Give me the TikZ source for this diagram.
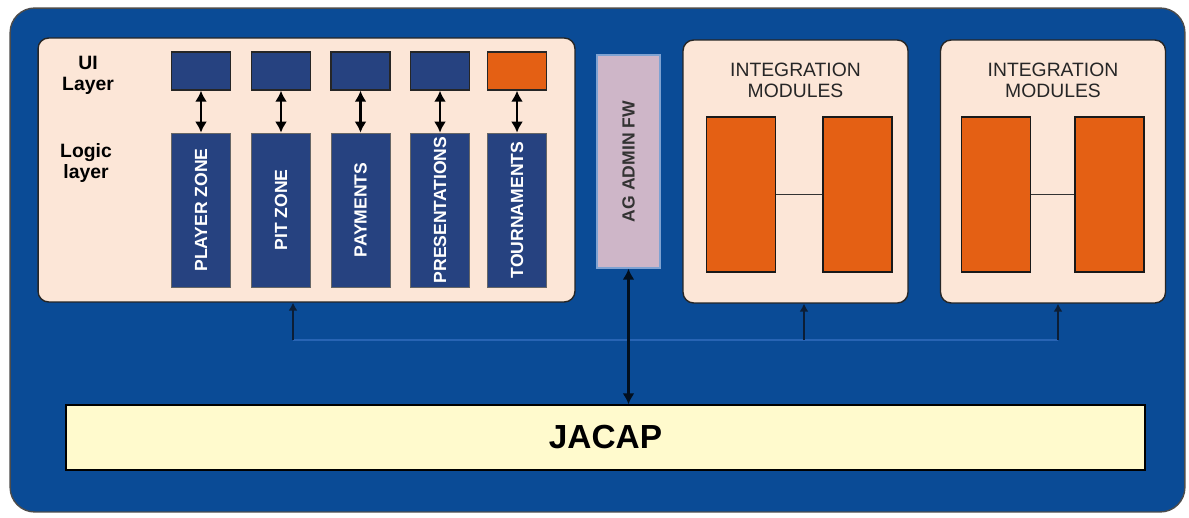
\documentclass[tikz,border=0pt]{standalone}
\usepackage{fontspec}
\setmainfont{Liberation Sans}
\usetikzlibrary{arrows.meta,positioning}
\definecolor{jacapblue}{RGB}{10,75,150}
\definecolor{busblue}{RGB}{40,100,180}
\definecolor{peach}{RGB}{252,230,215}
\definecolor{navybox}{RGB}{38,66,128}
\definecolor{modorange}{RGB}{228,96,20}
\definecolor{adminfill}{RGB}{206,182,200}
\definecolor{jacapfill}{RGB}{255,250,205}

\begin{document}
\begin{tikzpicture}[x=0.02cm,y=-0.02cm,
        panel/.style={draw=black!85,thick,rounded corners=6pt,fill=peach,inner sep=0pt},
        uibox/.style={draw=black!85,thick,fill=navybox,minimum width=1.18cm,minimum height=0.76cm,inner sep=0pt},
        logicbox/.style={draw=black!60,fill=navybox,minimum width=1.18cm,minimum height=3.08cm,inner sep=0pt,
                         text=white,font=\fontsize{10}{11}\selectfont\bfseries},
        modbox/.style={draw=black!90,thick,fill=modorange,minimum width=1.38cm,minimum height=3.1cm,inner sep=0pt},
        title/.style={align=center,font=\fontsize{11}{12}\selectfont,text=black!85},
        lbl/.style={align=center,font=\fontsize{11}{12}\selectfont\bfseries},
        arr/.style={{Latex[length=2.2mm,width=2.4mm]}-{Latex[length=2.2mm,width=2.4mm]},line width=1.4pt,black},
        bus/.style={thick,busblue}]
    \useasboundingbox (0,0) rectangle (1189,517);
    \fill[white] (0,0) rectangle (1189,517);
    \node[draw=black!70,thick,fill=jacapblue,rounded corners=14pt,minimum width=23.5cm,minimum height=10.08cm] (bg) at (597.5,260) {};

    % presentation / logic panel
    \node[panel,minimum width=10.74cm,minimum height=5.28cm] (plat) at (306.5,170) {};
    \node[lbl] (uilbl) at (88,75) {UI\\Layer};
    \node[lbl] (logiclbl) at (86,163) {Logic\\layer};
    \node[uibox] (u1) at (201,71) {};
    \node[uibox] (u2) at (281,71) {};
    \node[uibox] (u3) at (360.5,71) {};
    \node[uibox] (u4) at (440,71) {};
    \node[uibox,fill=modorange] (u5) at (517,71) {};
    \node[logicbox] (l1) at (201,210) {\rotatebox{90}{PLAYER ZONE}};
    \node[logicbox] (l2) at (281,210) {\rotatebox{90}{PIT ZONE}};
    \node[logicbox] (l3) at (360.5,210) {\rotatebox{90}{PAYMENTS}};
    \node[logicbox] (l4) at (440,210) {\rotatebox{90}{PRESENTATIONS}};
    \node[logicbox] (l5) at (517,210) {\rotatebox{90}{TOURNAMENTS}};
    \foreach \i in {1,...,5}
        \draw[arr] (u\i) -- (l\i);

    % admin framework
    \node[draw=busblue!60,thick,fill=adminfill,minimum width=1.26cm,minimum height=4.26cm,inner sep=0pt,
          font=\fontsize{10}{11}\selectfont\bfseries,text=black!80] (ag) at (628.5,161.5) {\rotatebox{90}{AG ADMIN FW}};

    % integration modules
    \node[panel,minimum width=4.5cm,minimum height=5.26cm] (int1) at (795.5,171.5) {};
    \node[panel,minimum width=4.5cm,minimum height=5.26cm] (int2) at (1053,171.5) {};
    \node[title] (t1) at (795.5,80) {INTEGRATION\\MODULES};
    \node[title] (t2) at (1053,80) {INTEGRATION\\MODULES};
    \node[modbox] (m1) at (741,194.5) {};
    \node[modbox] (m2) at (857.5,194.5) {};
    \node[modbox] (m3) at (996,194.5) {};
    \node[modbox] (m4) at (1109.5,194.5) {};
    \draw[black!80] (m1) -- (m2);
    \draw[black!80] (m3) -- (m4);

    % common layer
    \node[draw=black,thick,fill=jacapfill,minimum width=21.58cm,minimum height=1.3cm,
          font=\fontsize{19}{21}\selectfont\bfseries] (jacap) at (605.5,437.5) {JACAP};

    \coordinate (h1) at (293,340);
    \coordinate (h2) at (804,340);
    \coordinate (h3) at (1058,340);
    \draw[bus] (h1) -- (h3);
    \foreach \h/\p in {h1/plat,h2/int1,h3/int2}
        \draw[bus,-{Latex[length=1.6mm,width=1.8mm]},black!70!busblue] (\h) -- (\h |- \p.south);
    \draw[arr,line width=1.2pt,black!80!jacapblue] (ag) -- (ag |- jacap.north);
\end{tikzpicture}
\end{document}
